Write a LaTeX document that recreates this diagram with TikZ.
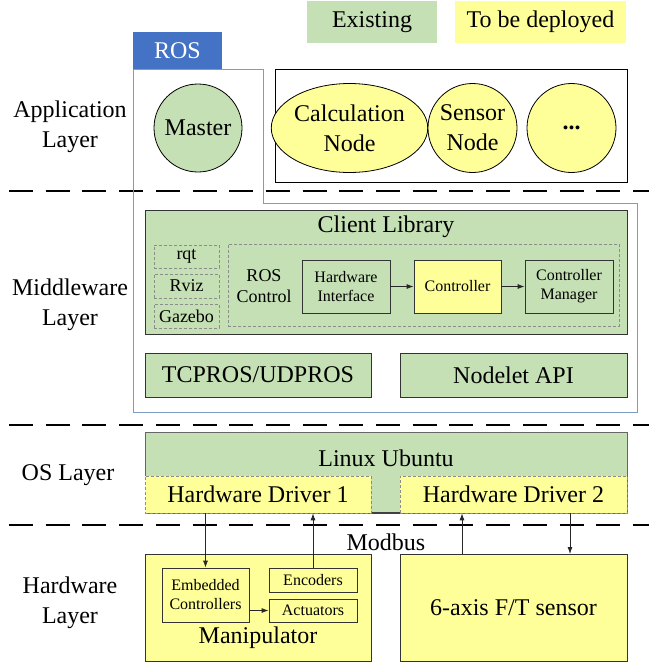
\documentclass[tikz,border=0pt]{standalone}
\usepackage{fontspec}
\setmainfont{Liberation Serif}
\usetikzlibrary{arrows.meta,shapes.geometric}
\definecolor{exgreen}{RGB}{197,224,180}
\definecolor{depyellow}{RGB}{255,255,153}
\definecolor{rosblue}{RGB}{68,114,196}
\definecolor{rosline}{RGB}{125,155,195}
\definecolor{dashgray}{RGB}{140,140,140}
\tikzset{
  big/.style={font=\fontsize{24}{30}\selectfont, align=center},
  mid/.style={font=\fontsize{18}{21}\selectfont, align=center},
  small/.style={font=\fontsize{16}{19}\selectfont, align=center},
  greenbox/.style={draw=black!80, fill=exgreen, line width=0.8pt},
  yellowbox/.style={draw=black!80, fill=depyellow, line width=0.8pt},
  thinbox/.style={draw=black!80, line width=0.8pt},
  dashbox/.style={draw=dashgray, dashed, dash pattern=on 3pt off 2pt, line width=0.6pt},
  layersep/.style={draw=black, line width=1.6pt, dash pattern=on 24pt off 12.7pt},
  arr/.style={-{Latex[length=7pt,width=5pt]}, line width=0.8pt, black!85},
}
\begin{document}
\begin{tikzpicture}[x=1pt,y=-1pt]
\useasboundingbox (0,0) rectangle (649,662);
\fill[white] (0,0) rectangle (649,662);

% legend
\node[fill=exgreen, minimum width=130pt, minimum height=42pt, big] (legex) at (372,22) {Existing};
\node[fill=depyellow, minimum width=171pt, minimum height=42pt, big] (legdep) at (540.5,22) {To be deployed};

% layer separators
\coordinate (s1a) at (9,191); \coordinate (s1b) at (649,191);
\coordinate (s2a) at (9,425); \coordinate (s2b) at (649,425);
\coordinate (s3a) at (9,525); \coordinate (s3b) at (649,525);
\draw[layersep] (s1a) -- (s1b);
\draw[layersep] (s2a) -- (s2b);
\draw[layersep] (s3a) -- (s3b);

% ROS outline and tab
\draw[rosline, line width=0.9pt] (133,69) -- (263,69) -- (263,203) -- (637,203) -- (637,412) -- (133,412) -- cycle;
\node[fill=rosblue, text=white, minimum width=89pt, minimum height=37pt, big, inner sep=0pt] (ros) at (177.5,50.5) {ROS};

% layer labels
\node[big] (lapp) at (70,127) {Application\\Layer};
\node[big] (lmid) at (70,305) {Middleware\\Layer};
\node[big] (los) at (68,475) {OS Layer};
\node[big] (lhw) at (70,603) {Hardware\\Layer};

% application layer
\node[circle, draw=black, line width=0.8pt, fill=exgreen, minimum size=88pt, inner sep=0pt, big] (master) at (198,128) {Master};
\node[draw=black, line width=0.8pt, minimum width=352pt, minimum height=113pt] (appbox) at (451,125.5) {};
\node[ellipse, draw=black, line width=0.8pt, fill=depyellow, minimum width=131pt, minimum height=89pt, inner sep=0pt, big] (calc) at (349.5,128) {Calculation\\Node};
\node[circle, draw=black, line width=0.8pt, fill=depyellow, minimum size=89pt, inner sep=0pt, big] (sensor) at (472.5,128) {Sensor\\Node};
\node[circle, draw=black, line width=0.8pt, fill=depyellow, minimum size=89pt, inner sep=0pt, big, font=\fontsize{24}{30}\selectfont\bfseries] (dots) at (571.5,128) {...};

% middleware layer
\node[greenbox, minimum width=482pt, minimum height=124pt] (client) at (386,272) {};
\node[big] (clienttxt) at (386,227) {Client Library};
\node[dashbox, minimum width=65pt, minimum height=23pt, mid, inner sep=0pt] (rqt) at (186.5,256.5) {rqt};
\node[dashbox, minimum width=65pt, minimum height=24pt, mid, inner sep=0pt] (rviz) at (186.5,286) {Rviz};
\node[dashbox, minimum width=65pt, minimum height=24pt, mid, inner sep=0pt] (gazebo) at (186.5,316) {Gazebo};
\node[dashbox, minimum width=391pt, minimum height=82pt] (roscontrol) at (423.5,285) {};
\node[mid] (rctxt) at (264,286) {ROS\\Control};
\node[greenbox, minimum width=88pt, minimum height=53pt, small, inner sep=0pt] (hwi) at (346,286.5) {Hardware\\Interface};
\node[yellowbox, minimum width=87pt, minimum height=53pt, small, inner sep=0pt] (ctrl) at (457.5,286.5) {Controller};
\node[greenbox, minimum width=88pt, minimum height=53pt, small, inner sep=0pt] (cm) at (569,286.5) {Controller\\Manager};
\draw[arr] (hwi) -- (ctrl);
\draw[arr] (ctrl) -- (cm);
\node[greenbox, minimum width=226pt, minimum height=44pt, big] (tcp) at (258,375) {TCPROS/UDPROS};
\node[greenbox, minimum width=227pt, minimum height=44pt, big] (nodelet) at (513.5,375) {Nodelet API};

% OS layer
\node[draw=black!60, fill=exgreen, line width=0.6pt, minimum width=482pt, minimum height=81pt] (linux) at (386,472.5) {};
\draw[black!75, line width=1.2pt] (371,513) -- (400,513);
\node[big] (linuxtxt) at (386,458) {Linux Ubuntu};
\node[dashbox, fill=depyellow, minimum width=226pt, minimum height=37pt, big, inner sep=0pt] (drv1) at (258,494.5) {Hardware Driver 1};
\node[dashbox, fill=depyellow, minimum width=227pt, minimum height=37pt, big, inner sep=0pt] (drv2) at (513.5,494.5) {Hardware Driver 2};

% hardware layer
\node[big] (modbus) at (386,542) {Modbus};
\node[yellowbox, minimum width=226pt, minimum height=107pt] (manip) at (258,607.5) {};
\node[big] (maniptxt) at (258,638) {Manipulator};
\node[yellowbox, minimum width=227pt, minimum height=107pt, big] (ftsensor) at (513.5,607.5) {};
\node[big] (fttxt) at (513.5,608) {6-axis F/T sensor};
\node[thinbox, minimum width=87pt, minimum height=54pt, small, inner sep=0pt] (emb) at (205.5,595) {Embedded\\Controllers};
\node[thinbox, minimum width=88pt, minimum height=24pt, small, inner sep=0pt] (enc) at (313,580) {Encoders};
\node[thinbox, minimum width=88pt, minimum height=23pt, small, inner sep=0pt] (act) at (313,610.5) {Actuators};
\draw[arr] (emb.east |- act) -- (act.west);
\draw[arr] (drv1.south -| emb.north) ++(0,0) coordinate (d1a) (d1a) -- (emb.north);
\draw[arr] (enc.north) -- (enc.north |- drv1.south);
\coordinate (sA) at (462,554);
\coordinate (sB) at (570,554);
\draw[arr] (sA) -- (sA |- drv2.south);
\draw[arr] (sB |- drv2.south) -- (sB);
\end{tikzpicture}
\end{document}
